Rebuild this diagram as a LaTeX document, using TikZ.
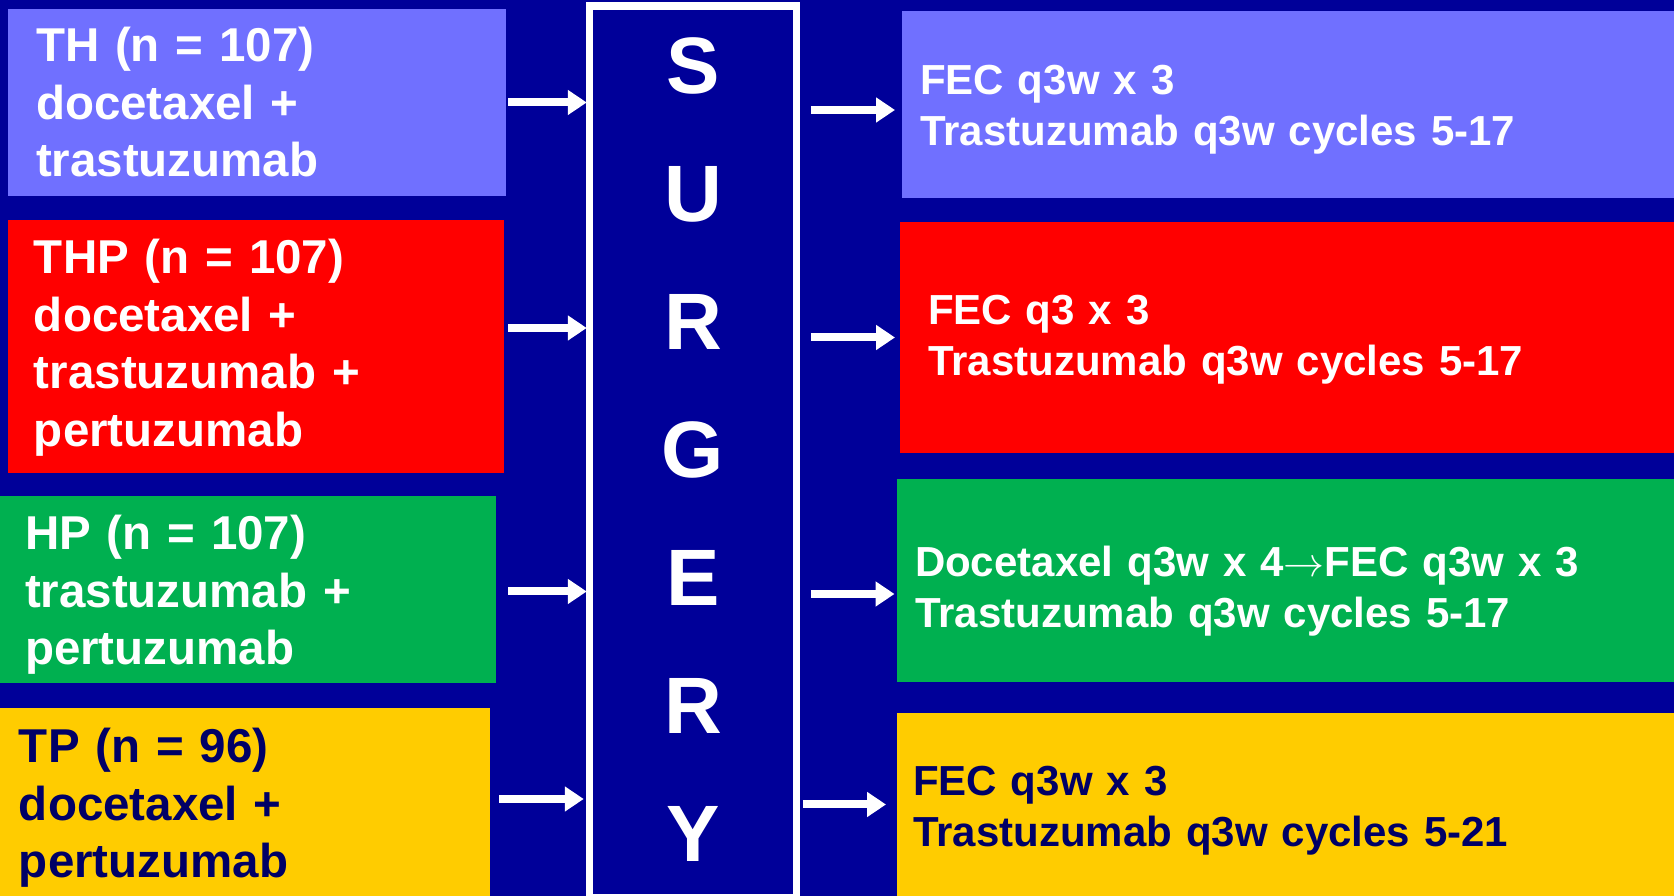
\documentclass[tikz,border=0pt]{standalone}
\usepackage{fontspec}
\setmainfont{Liberation Sans}
\usepackage{tikz}
\usetikzlibrary{arrows.meta}

\begin{document}
\begin{tikzpicture}[x=1pt,y=1pt,
  armbox/.style={anchor=north west,inner sep=0pt,outer sep=0pt},
  armtext/.style={anchor=base west,inner sep=0pt,outer sep=0pt,text width=470pt,align=left,text=white,font=\bfseries\fontsize{47.5}{57.5}\selectfont},
  plantext/.style={anchor=base west,inner sep=0pt,outer sep=0pt,text width=740pt,align=left,text=white,font=\bfseries\fontsize{42}{51}\selectfont},
  flow/.style={draw=white,line width=8pt,-{Triangle[length=19pt,width=24pt]}}]
\definecolor{bgColor}{RGB}{0,0,153}
\definecolor{thColor}{RGB}{112,112,255}
\definecolor{thpColor}{RGB}{255,0,0}
\definecolor{hpColor}{RGB}{0,176,80}
\definecolor{tpColor}{RGB}{255,204,0}
\definecolor{navyColor}{RGB}{0,0,102}
\path[use as bounding box,fill=bgColor] (0,0) rectangle (1674,896);

% neoadjuvant arms
\node[armbox,fill=thColor,minimum width=498pt,minimum height=187pt] (th) at (8,887) {};
\node[armbox,fill=thpColor,minimum width=496pt,minimum height=253pt] (thp) at (8,676) {};
\node[armbox,fill=hpColor,minimum width=496pt,minimum height=187pt] (hp) at (0,400) {};
\node[armbox,fill=tpColor,minimum width=490pt,minimum height=188pt] (tp) at (0,188) {};

\node[armtext] (thtext) at (36,834.3) {TH (n = 107)\\docetaxel +\\trastuzumab};
\node[armtext] (thptext) at (34,622) {THP (n = 107)\\docetaxel +\\trastuzumab +\\pertuzumab};
\node[armtext] (hptext) at (25,346) {HP (n = 107)\\trastuzumab +\\pertuzumab};
\node[armtext,text=navyColor] (tptext) at (19,133.3) {TP (n = 96)\\docetaxel +\\pertuzumab};

% surgery
\node[draw=white,fill=bgColor,line width=7.5pt,outer sep=3.75pt,inner sep=0pt,minimum width=207pt,minimum height=892pt,anchor=north] (surgery) at (693,893.75) {};
\node[anchor=base,inner sep=0pt,text width=120pt,align=center,text=white,font=\bfseries\fontsize{80}{128}\selectfont] (surgtext) at (693,802) {S\\U\\R\\G\\E\\R\\Y};

% adjuvant treatment
\node[armbox,fill=thColor,minimum width=772pt,minimum height=187pt] (fth) at (902,885) {};
\node[armbox,fill=thpColor,minimum width=774pt,minimum height=231pt] (fthp) at (900,674) {};
\node[armbox,fill=hpColor,minimum width=777pt,minimum height=203pt] (fhp) at (897,417) {};
\node[armbox,fill=tpColor,minimum width=777pt,minimum height=183pt] (ftp) at (897,183) {};

\node[plantext] (fthtext) at (920,801.7) {FEC q3w x 3\\Trastuzumab q3w cycles 5-17};
\node[plantext] (fthptext) at (928,571) {FEC q3 x 3\\Trastuzumab q3w cycles 5-17};
\node[plantext] (fhptext) at (915,319.3) {Docetaxel q3w x 4\resizebox{41pt}{!}{$\rightarrow$}FEC q3w x 3\\Trastuzumab q3w cycles 5-17};
\node[plantext,text=navyColor] (ftptext) at (913,100) {FEC q3w x 3\\Trastuzumab q3w cycles 5-21};

% arrows
\draw[flow] ([xshift=2pt]th.east) -- ([xshift=1pt]th.east -| surgery.west);
\draw[flow] ([xshift=4pt,yshift=18.5pt]thp.east) -- ([xshift=1pt,yshift=18.5pt]thp.east -| surgery.west);
\draw[flow] ([xshift=12pt,yshift=-2pt]hp.east) -- ([xshift=1pt,yshift=-2pt]hp.east -| surgery.west);
\draw[flow] ([xshift=9pt,yshift=3pt]tp.east) -- ([xshift=-2pt,yshift=3pt]tp.east -| surgery.west);

\draw[flow] ([xshift=10.5pt,yshift=-5.5pt]surgery.east |- fth.west) -- ([xshift=-7pt,yshift=-5.5pt]fth.west);
\draw[flow] ([xshift=10.5pt]surgery.east |- fthp.west) -- ([xshift=-5pt]fthp.west);
\draw[flow] ([xshift=10.5pt,yshift=-13.5pt]surgery.east |- fhp.west) -- ([xshift=-2.5pt,yshift=-13.5pt]fhp.west);
\draw[flow] ([xshift=2.5pt]surgery.east |- ftp.west) -- ([xshift=-11pt]ftp.west);
\end{tikzpicture}
\end{document}
